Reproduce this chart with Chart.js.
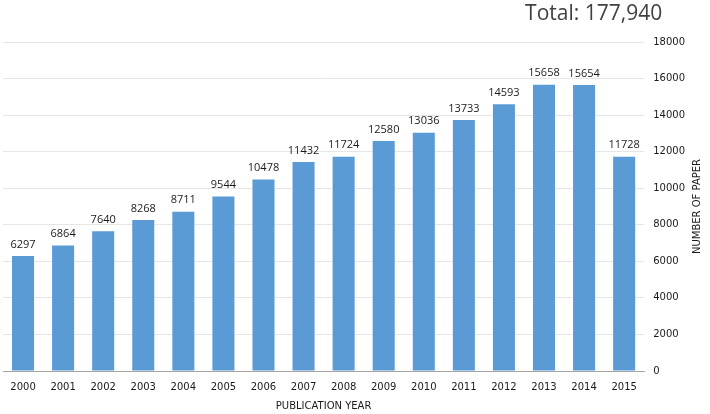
<!DOCTYPE html>
<html lang="en">
<head>
<meta charset="UTF-8">
<title>Number of papers by publication year</title>
<script src="https://cdn.jsdelivr.net/npm/chart.js"></script>
<style>
    body { margin: 0; background: #ffffff; }
    #wrap { width: 710px; height: 414px; }
</style>
</head>
<body>
<div id="wrap"><canvas id="paperChart"></canvas></div>
<script>
    const years = ['2000', '2001', '2002', '2003', '2004', '2005', '2006', '2007',
                   '2008', '2009', '2010', '2011', '2012', '2013', '2014', '2015'];
    const papers = [6297, 6864, 7640, 8268, 8711, 9544, 10478, 11432,
                    11724, 12580, 13036, 13733, 14593, 15658, 15654, 11728];
    const yMax = 18000;
    const yStep = 2000;

    const total = papers.reduce((a, b) => a + b, 0);

    // value labels above each bar
    const barLabels = {
        id: 'barLabels',
        afterDatasetsDraw(chart) {
            const ctx = chart.ctx;
            const meta = chart.getDatasetMeta(0);
            ctx.save();
            ctx.font = '11px "Open Sans"';
            ctx.fillStyle = '#1a1a1a';
            ctx.textAlign = 'center';
            ctx.textBaseline = 'bottom';
            meta.data.forEach((bar, i) => {
                ctx.fillText(String(papers[i]), bar.x, bar.y - 6);
            });
            ctx.restore();
        }
    };

    // "Total" text top right + y axis title reading bottom to top
    const extraText = {
        id: 'extraText',
        afterDraw(chart) {
            const ctx = chart.ctx;
            const area = chart.chartArea;
            ctx.save();
            ctx.font = '21px "Open Sans"';
            ctx.fillStyle = '#404040';
            ctx.textAlign = 'right';
            ctx.textBaseline = 'alphabetic';
            ctx.fillText('Total: ' + total.toLocaleString('en-US'), area.right + 18, 20);

            ctx.translate(area.right + 53, (area.top + area.bottom) / 2);
            ctx.rotate(-Math.PI / 2);
            ctx.font = '10px "DejaVu Sans"';
            ctx.fillStyle = '#1a1a1a';
            ctx.textAlign = 'center';
            ctx.textBaseline = 'middle';
            ctx.fillText('NUMBER OF PAPER', 0, 0);
            ctx.restore();
        }
    };

    new Chart(document.getElementById('paperChart'), {
        type: 'bar',
        data: {
            labels: years,
            datasets: [{
                data: papers,
                backgroundColor: '#5b9bd5',
                categoryPercentage: 1.0,
                barPercentage: 0.55
            }]
        },
        options: {
            responsive: true,
            maintainAspectRatio: false,
            animation: false,
            layout: { padding: { top: 42, left: 3, right: 16, bottom: 2 } },
            plugins: {
                legend: { display: false },
                tooltip: { enabled: false }
            },
            scales: {
                x: {
                    grid: { display: false },
                    border: { color: '#a6a6a6', width: 1 },
                    ticks: { color: '#1a1a1a', font: { family: 'DejaVu Sans', size: 10 }, padding: 2 },
                    title: { display: true, text: 'PUBLICATION YEAR', color: '#1a1a1a',
                             font: { family: 'DejaVu Sans', size: 10 }, padding: { top: 5, bottom: 0 } }
                },
                y: {
                    position: 'right',
                    min: 0,
                    max: yMax,
                    ticks: {
                        stepSize: yStep,
                        color: '#1a1a1a',
                        font: { family: 'DejaVu Sans', size: 10 },
                        padding: 9,
                        callback: v => String(v)
                    },
                    grid: { color: '#e6e6e6', drawTicks: false },
                    border: { display: false }
                }
            }
        },
        plugins: [barLabels, extraText]
    });
</script>
</body>
</html>
